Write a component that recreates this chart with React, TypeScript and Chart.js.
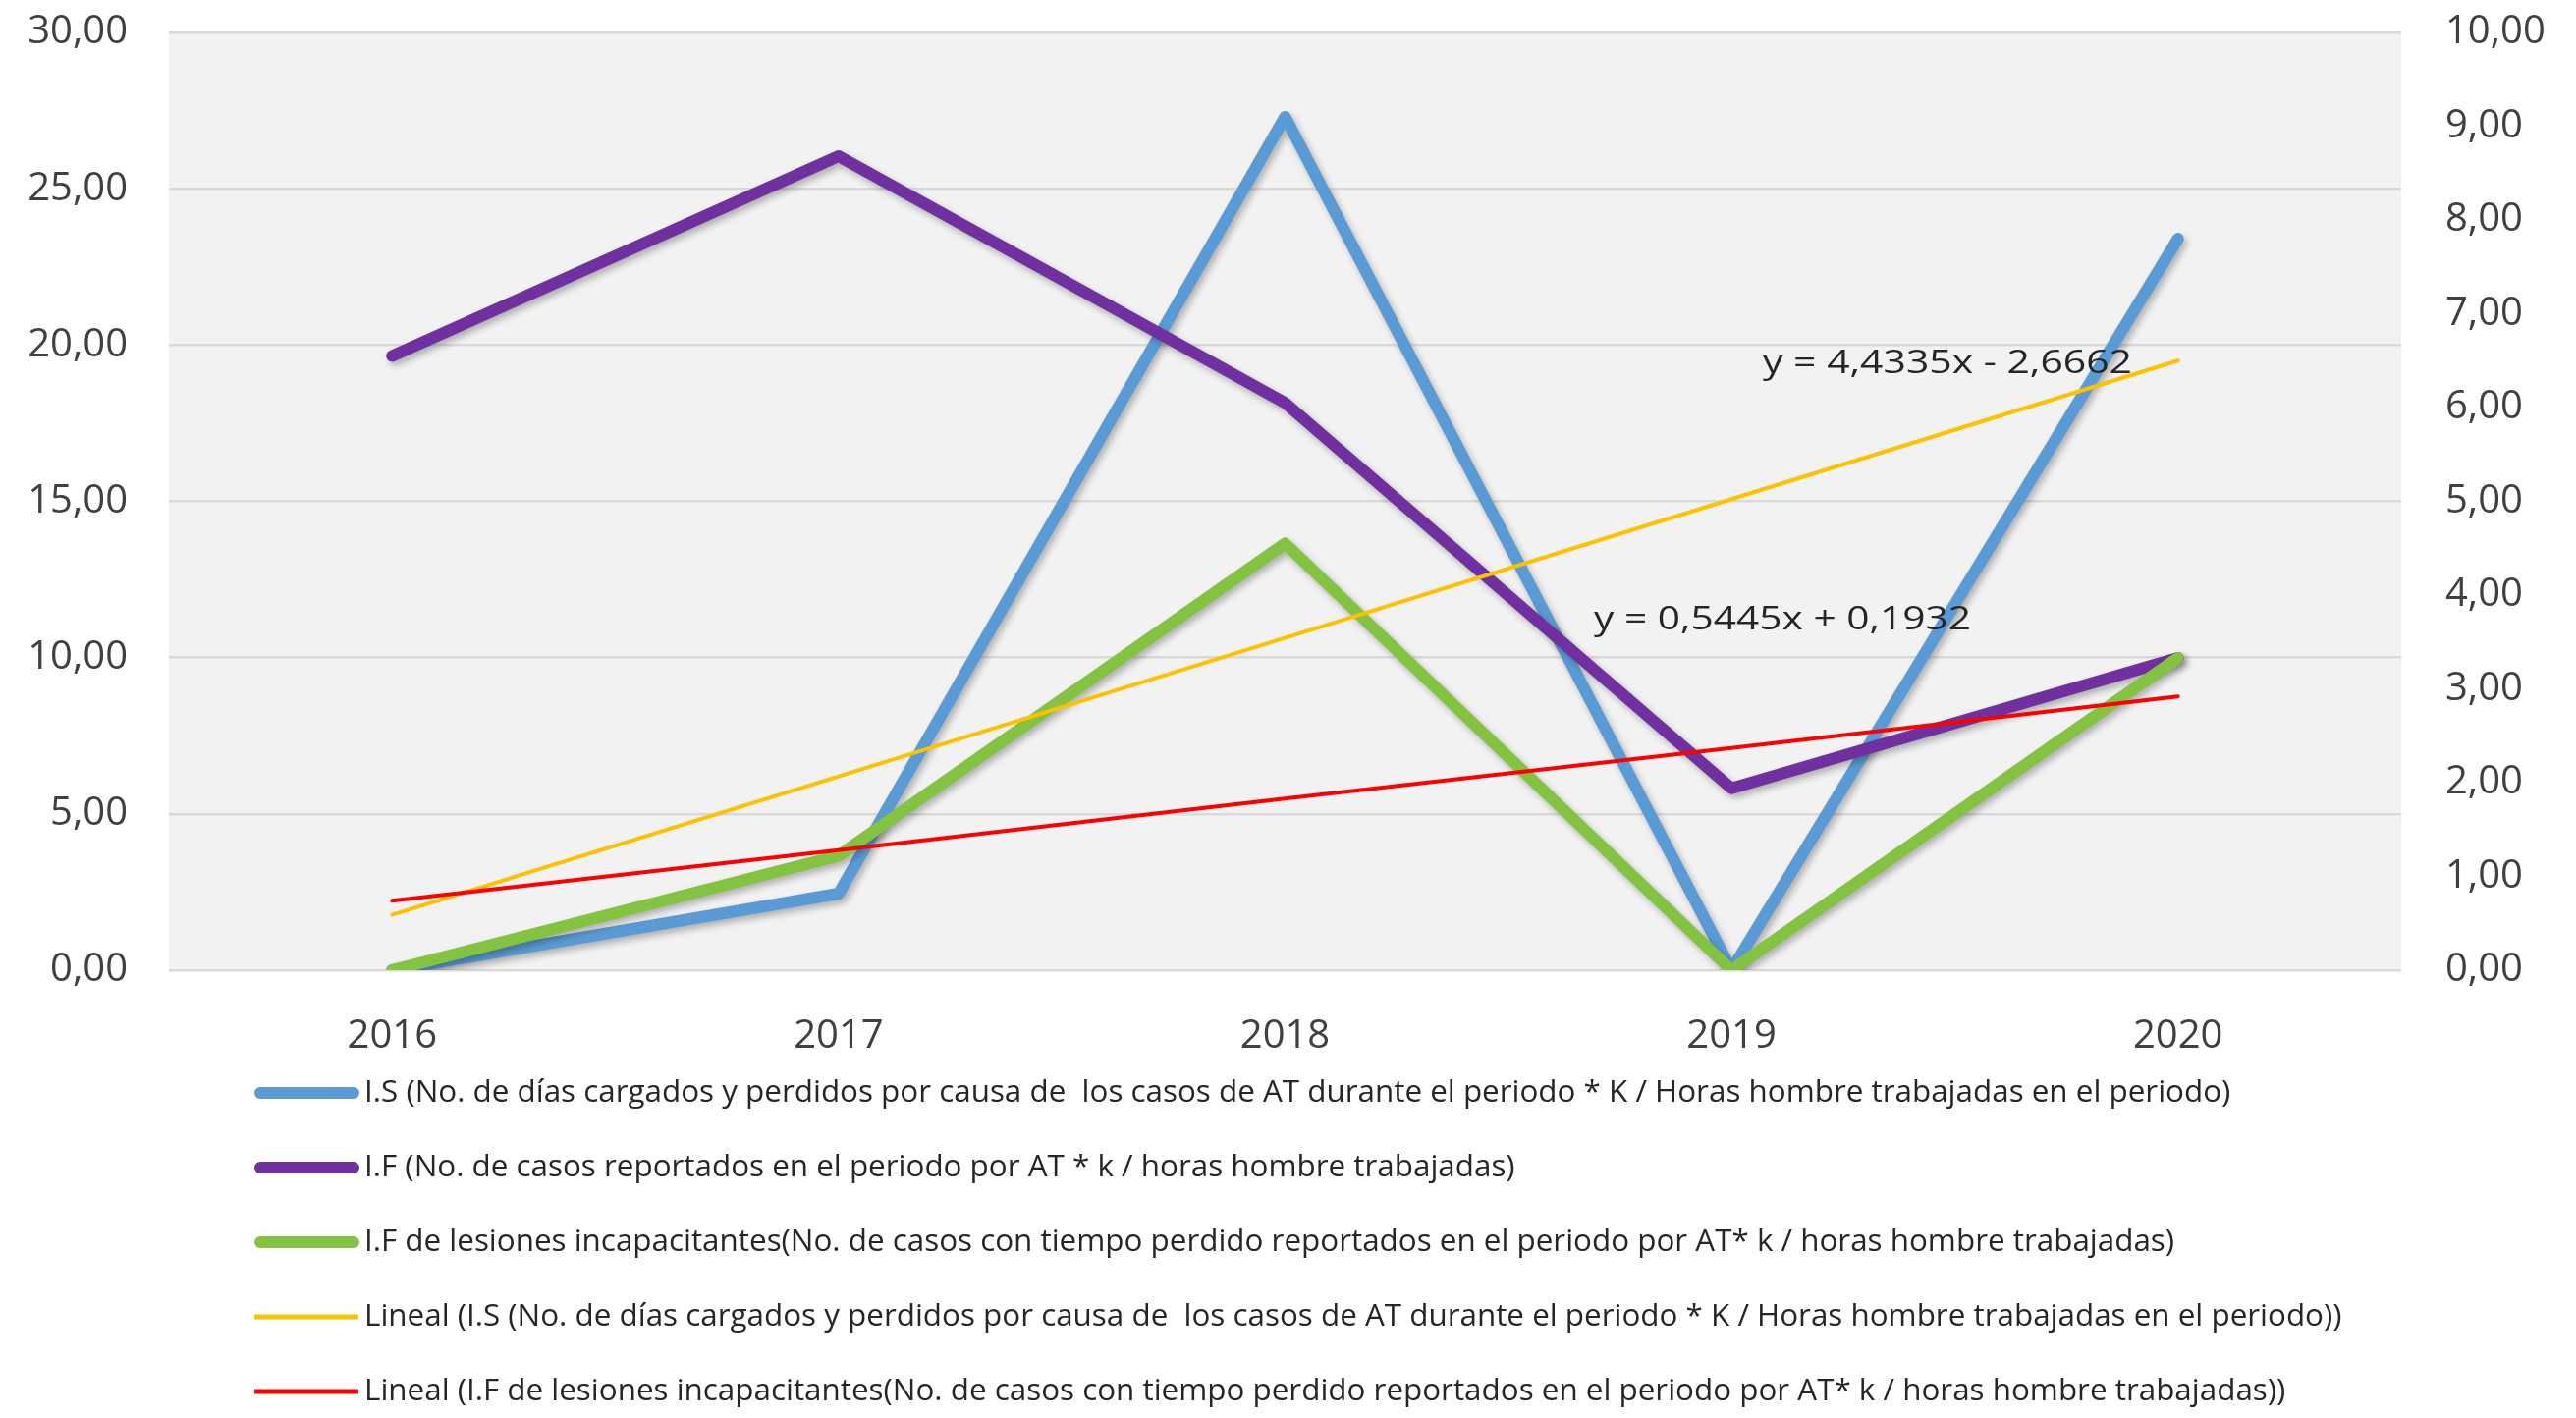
import { useEffect, useRef } from "react";
import { Chart, registerables } from "chart.js";

Chart.register(...registerables);

// ---- data ----
const years = ["2016", "2017", "2018", "2019", "2020"];
const isValues = [0, 2.45, 27.3, 0, 23.4]; // left axis
const ifValues = [6.55, 8.68, 6.05, 1.94, 3.33]; // right axis
const ifLesionesValues = [0, 1.22, 4.55, 0, 3.33]; // right axis
const isTrendValues = [1.77, 6.2, 10.63, 15.07, 19.5]; // left axis
const ifLesionesTrendValues = [0.74, 1.28, 1.83, 2.37, 2.92]; // right axis

const leftAxis = { min: 0, max: 30, step: 5 };
const rightAxis = { min: 0, max: 10, step: 1 };

const seriesLabels = [
  "I.S (No. de días cargados y perdidos por causa de  los casos de AT durante el periodo * K / Horas hombre trabajadas en el periodo)",
  "I.F (No. de casos reportados en el periodo por AT * k / horas hombre trabajadas)",
  "I.F de lesiones incapacitantes(No. de casos con tiempo perdido reportados en el periodo por AT* k / horas hombre trabajadas)",
  "Lineal (I.S (No. de días cargados y perdidos por causa de  los casos de AT durante el periodo * K / Horas hombre trabajadas en el periodo))",
  "Lineal (I.F de lesiones incapacitantes(No. de casos con tiempo perdido reportados en el periodo por AT* k / horas hombre trabajadas))",
];
const trendEquations = ["y = 4,4335x - 2,6662", "y = 0,5445x + 0,1932"];

const colors = ["#5B9BD5", "#7030A0", "#84C341", "#FFC000", "#FF0000"];

const fmt = (v: number | string) => Number(v).toFixed(2).replace(".", ",");

const plotBg = {
  id: "plotBg",
  beforeDraw(chart: any) {
    const { ctx, chartArea: a } = chart;
    ctx.save();
    ctx.fillStyle = "#F2F2F2";
    ctx.fillRect(a.left, a.top, a.right - a.left, a.bottom - a.top);
    ctx.restore();
  },
};

const lineShadow = {
  id: "lineShadow",
  beforeDatasetDraw(chart: any, args: any) {
    const ds = chart.data.datasets[args.index];
    if (ds.borderWidth < 8) return;
    const ctx = chart.ctx;
    ctx.save();
    ctx.shadowColor = "rgba(0,0,0,0.28)";
    ctx.shadowBlur = 7;
    ctx.shadowOffsetX = 3;
    ctx.shadowOffsetY = 4;
  },
  afterDatasetDraw(chart: any, args: any) {
    const ds = chart.data.datasets[args.index];
    if (ds.borderWidth < 8) return;
    chart.ctx.restore();
  },
};

const legendAndLabels = {
  id: "legendAndLabels",
  afterDraw(chart: any) {
    const ctx = chart.ctx;
    ctx.save();
    // trend equations
    ctx.fillStyle = "#262626";
    ctx.font = "32px 'Open Sans'";
    ctx.textBaseline = "middle";
    ctx.textAlign = "left";
    const eqPos = [
      { x: 1795, y: 371 },
      { x: 1623, y: 632 },
    ];
    trendEquations.forEach((t, i) => {
      const w = ctx.measureText(t).width;
      const target = i === 0 ? 376 : 384;
      ctx.save();
      ctx.translate(eqPos[i].x, eqPos[i].y);
      ctx.scale(target / w, 1);
      ctx.fillText(t, 0, 0);
      ctx.restore();
    });
    // legend
    const rows = [1113, 1189, 1265, 1341, 1417];
    chart.data.datasets.forEach((ds: any, i: number) => {
      const y = rows[i];
      ctx.save();
      ctx.strokeStyle = ds.borderColor;
      ctx.lineWidth = ds.borderWidth >= 8 ? 12 : 5;
      ctx.lineCap = ds.borderWidth >= 8 ? "round" : "butt";
      ctx.beginPath();
      const x0 = ds.borderWidth >= 8 ? 265 : 259;
      const x1 = ds.borderWidth >= 8 ? 360 : 365;
      ctx.moveTo(x0, y);
      ctx.lineTo(x1, y);
      ctx.stroke();
      ctx.restore();
      ctx.fillStyle = "#262626";
      ctx.font = "31.4px 'Open Sans'";
      ctx.textBaseline = "middle";
      ctx.fillText(ds.label, 371, y);
    });
    ctx.restore();
  },
};

export default function App() {
  const ref = useRef<HTMLCanvasElement | null>(null);
  useEffect(() => {
    if (!ref.current) return;
    const axisFont = { family: "'Open Sans'", size: 40 };
    const chart = new Chart(ref.current, {
      type: "line",
      data: {
        labels: years,
        datasets: [
          { label: seriesLabels[0], data: isValues, yAxisID: "y", borderColor: colors[0], borderWidth: 12, order: 4 },
          { label: seriesLabels[1], data: ifValues, yAxisID: "y1", borderColor: colors[1], borderWidth: 12, order: 3 },
          { label: seriesLabels[2], data: ifLesionesValues, yAxisID: "y1", borderColor: colors[2], borderWidth: 12, order: 2 },
          { label: seriesLabels[3], data: isTrendValues, yAxisID: "y", borderColor: colors[3], borderWidth: 4, order: 1 },
          { label: seriesLabels[4], data: ifLesionesTrendValues, yAxisID: "y1", borderColor: colors[4], borderWidth: 4, order: 0 },
        ].map((d) => ({
          ...d,
          fill: false,
          pointRadius: 0,
          pointHoverRadius: 0,
          tension: 0,
          borderCapStyle: "round" as const,
          borderJoinStyle: "round" as const,
        })),
      },
      options: {
        animation: false,
        responsive: true,
        maintainAspectRatio: false,
        layout: { padding: { top: 33, left: 0, right: 0, bottom: 0 } },
        plugins: {
          legend: { display: false },
          tooltip: { enabled: false },
        },
        scales: {
          x: {
            type: "category",
            offset: true,
            grid: { display: false },
            border: { display: false },
            ticks: { font: axisFont, color: "#404040", padding: 36, maxRotation: 0 },
            afterFit(scale: any) {
              scale.height = 1444 - 988;
            },
          },
          y: {
            position: "left",
            min: leftAxis.min,
            max: leftAxis.max,
            ticks: {
              stepSize: leftAxis.step,
              font: axisFont,
              color: "#404040",
              padding: 42,
              callback: (v: any) => fmt(v),
            },
            grid: { color: "#D9D9D9", lineWidth: 2.5, drawTicks: false },
            border: { display: false },
            afterFit(scale: any) {
              scale.width = 172;
              scale.paddingTop = 24;
              scale.paddingBottom = 24;
            },
          },
          y1: {
            position: "right",
            min: rightAxis.min,
            max: rightAxis.max,
            ticks: {
              stepSize: rightAxis.step,
              font: axisFont,
              color: "#404040",
              padding: 45,
              callback: (v: any) => fmt(v),
            },
            grid: { display: false, drawTicks: false },
            border: { display: false },
            afterFit(scale: any) {
              scale.width = 178;
              scale.paddingTop = 24;
              scale.paddingBottom = 24;
            },
          },
        },
      },
      plugins: [plotBg, lineShadow, legendAndLabels],
    });
    return () => chart.destroy();
  }, []);
  return (
    <div style={{ position: "fixed", left: 0, top: 0, width: 2623, height: 1444, background: "#fff" }}>
      <canvas ref={ref} style={{ display: "block" }} />
    </div>
  );
}
